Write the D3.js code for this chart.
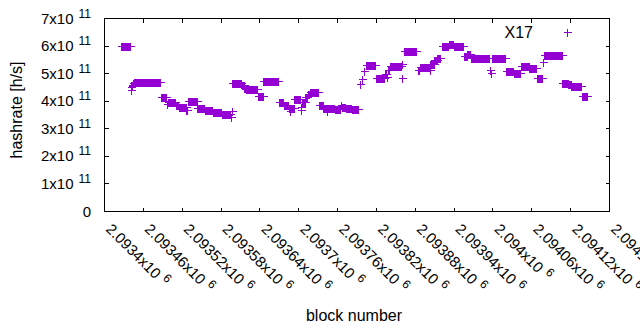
<!DOCTYPE html>
<html>
<head>
<meta charset="utf-8">
<script src="https://cdn.jsdelivr.net/npm/d3@7"></script>
<style>
html,body{margin:0;padding:0;background:#fff;}
svg text{font-family:"Liberation Sans",Arial,sans-serif;fill:#000;}
</style>
</head>
<body>
<svg id="chart" width="640" height="330"></svg>
<script>
// Runs of consecutive blocks sharing one hashrate value (x10^11 h/s)
const runStart = [2093427,2093441,2093442,2093443,2093444,2093445,2093446,2093488,2093497,2093499,
  2093511,2093516,2093527,2093529,2093544,2093556,2093568,2093582,2093596,2093597,
  2093598,2093613,2093617,2093620,2093638,2093646,2093670,2093678,2093685,2093688,
  2093689,2093694,2093704,2093705,2093706,2093711,2093715,2093718,2093732,2093739,
  2093744,2093745,2093748,2093757,2093766,2093767,2093774,2093783,2093796,2093798,
  2093801,2093804,2093820,2093834,2093837,2093838,2093841,2093860,2093861,2093864,
  2093885,2093888,2093903,2093904,2093910,2093915,2093922,2093933,2093940,2093956,
  2093961,2093967,2093996,2093997,2093999,2094021,2094033,2094044,2094057,2094069,
  2094078,2094080,2094108,2094117,2094122,2094139];
const runEnd = [2093440,2093441,2093442,2093443,2093444,2093445,2093487,2093496,2093498,2093510,
  2093515,2093526,2093528,2093543,2093555,2093567,2093581,2093595,2093596,2093597,
  2093612,2093616,2093619,2093637,2093645,2093669,2093677,2093684,2093687,2093688,
  2093693,2093703,2093704,2093705,2093710,2093714,2093717,2093731,2093738,2093743,
  2093744,2093747,2093756,2093765,2093766,2093773,2093782,2093793,2093796,2093798,
  2093801,2093819,2093833,2093836,2093837,2093840,2093858,2093860,2093861,2093882,
  2093887,2093902,2093903,2093909,2093914,2093919,2093932,2093939,2093955,2093960,
  2093966,2093995,2093996,2093997,2094019,2094032,2094043,2094056,2094067,2094076,
  2094078,2094107,2094116,2094121,2094137,2094146];
const runValue = [5.98,4.50,4.40,4.53,4.58,4.63,4.68,4.13,3.88,3.95,
  3.85,3.77,3.65,3.99,3.74,3.66,3.59,3.51,3.40,3.64,
  4.64,4.56,4.47,4.41,4.16,4.70,3.95,3.85,3.75,3.63,
  3.75,4.05,3.78,3.68,3.96,4.15,4.25,4.31,3.84,3.74,
  3.63,3.74,3.72,3.71,3.86,3.78,3.72,3.69,4.60,4.80,
  5.08,5.28,4.81,4.96,4.85,5.10,5.25,4.81,5.32,5.79,
  5.10,5.23,5.10,5.33,5.47,5.55,5.97,6.07,5.97,5.62,
  5.70,5.54,5.10,4.99,5.54,5.09,5.00,5.25,5.20,4.81,
  5.39,5.66,4.66,4.59,4.54,4.18];
const valueScale = 1e11;

const xTickValues = [2093400,2093460,2093520,2093580,2093640,2093700,2093760,2093820,
  2093880,2093940,2094000,2094060,2094120,2094180];
const xTickLabels = ["2.0934","2.09346","2.09352","2.09358","2.09364","2.0937","2.09376",
  "2.09382","2.09388","2.09394","2.094","2.09406","2.09412","2.09418"];
const yTickValues = [0,1e11,2e11,3e11,4e11,5e11,6e11,7e11];
const yTickMantissa = ["0","1","2","3","4","5","6","7"];
const seriesName = "X17";

const svg = d3.select("#chart");
const L = 104, R = 609, T = 18, B = 211;
const color = "#9400d3";
const x = d3.scaleLinear().domain([2093400, 2094180]).range([L, R]);
const y = d3.scaleLinear().domain([0, 7e11]).range([B, T]);

// frame
svg.append("rect").attr("x", L + 0.5).attr("y", T + 0.5)
  .attr("width", R - L).attr("height", B - T)
  .attr("fill", "none").attr("stroke", "#000").attr("stroke-width", 1);

const tick = 4;
const g = svg.append("g").attr("shape-rendering", "crispEdges").attr("stroke", "#000");
xTickValues.forEach(v => {
  const px = Math.round(x(v)) + 0.5;
  g.append("line").attr("x1", px).attr("x2", px).attr("y1", B + 0.5).attr("y2", B + 0.5 - tick);
  g.append("line").attr("x1", px).attr("x2", px).attr("y1", T + 0.5).attr("y2", T + 0.5 + tick);
});
yTickValues.forEach(v => {
  const py = Math.round(y(v)) + 0.5;
  g.append("line").attr("x1", L + 0.5).attr("x2", L + 0.5 + tick).attr("y1", py).attr("y2", py);
  g.append("line").attr("x1", R + 0.5).attr("x2", R + 0.5 - tick).attr("y1", py).attr("y2", py);
});

// y tick labels
yTickValues.forEach((v, i) => {
  const t = svg.append("text").attr("x", 91).attr("y", y(v) + 5.5)
    .attr("text-anchor", "end").style("font-size", "15px");
  if (v === 0) { t.text(yTickMantissa[i]); return; }
  t.append("tspan").text(yTickMantissa[i] + "x10");
  t.append("tspan").attr("dx", 5).attr("dy", -6).style("font-size", "12px").text("11");
});

// x tick labels (rotated)
xTickValues.forEach((v, i) => {
  const t = svg.append("text")
    .attr("transform", `translate(${x(v) + 1},${B + 19}) rotate(45)`)
    .attr("text-anchor", "start").style("font-size", "15px");
  t.append("tspan").text(xTickLabels[i] + "x10");
  t.append("tspan").attr("dx", 5).attr("dy", -6).style("font-size", "12px").text("6");
});

// axis titles
svg.append("text").attr("x", 354).attr("y", 321).attr("text-anchor", "middle")
  .style("font-size", "16px").text("block number");
svg.append("text").attr("transform", "translate(22,110) rotate(-90)")
  .attr("text-anchor", "middle").style("font-size", "16px").text("hashrate [h/s]");

// data marks: '+' symbols of consecutive blocks merge into a bar with arms
const arm = 3.5;
const pts = svg.append("g").attr("shape-rendering", "crispEdges");
runStart.forEach((s, i) => {
  const x0 = Math.round(x(s)), x1 = Math.round(x(runEnd[i]));
  const cy = Math.round(y(runValue[i] * valueScale));
  pts.append("rect").attr("x", x0).attr("y", cy - arm)
    .attr("width", x1 - x0 + 1).attr("height", 2 * arm + 1).attr("fill", color);
  pts.append("rect").attr("x", x0 - arm).attr("y", cy)
    .attr("width", x1 - x0 + 1 + 2 * arm).attr("height", 1).attr("fill", color);
});

// legend
svg.append("text").attr("x", 533).attr("y", 38).attr("text-anchor", "end")
  .style("font-size", "16px").text(seriesName);
const lx = 567, ly = 32;
pts.append("rect").attr("x", lx).attr("y", ly - arm).attr("width", 1).attr("height", 2 * arm + 1).attr("fill", color);
pts.append("rect").attr("x", lx - arm).attr("y", ly).attr("width", 2 * arm + 1).attr("height", 1).attr("fill", color);
</script>
</body>
</html>
